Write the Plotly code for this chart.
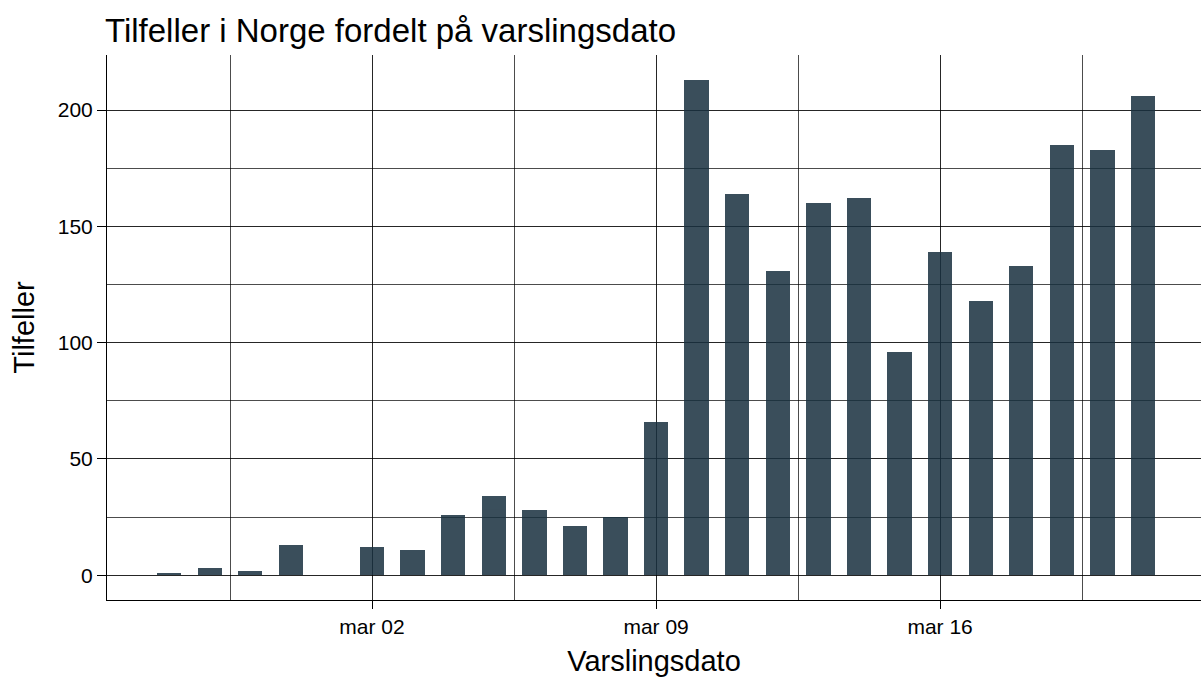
import plotly.graph_objects as go

dates = ["2020-02-26", "2020-02-27", "2020-02-28", "2020-02-29",
         "2020-03-02", "2020-03-03", "2020-03-04", "2020-03-05", "2020-03-06",
         "2020-03-07", "2020-03-08", "2020-03-09", "2020-03-10", "2020-03-11",
         "2020-03-12", "2020-03-13", "2020-03-14", "2020-03-15", "2020-03-16",
         "2020-03-17", "2020-03-18", "2020-03-19", "2020-03-20", "2020-03-21"]
cases = [1, 3, 2, 13, 12, 11, 26, 34, 28, 21, 25, 66, 213, 164, 131, 160, 162,
         96, 139, 118, 133, 185, 183, 206]

x_tickvals = ["2020-03-02", "2020-03-09", "2020-03-16"]
x_ticktext = ["mar 02", "mar 09", "mar 16"]
x_minorvals = ["2020-02-27 12:00", "2020-03-05 12:00", "2020-03-12 12:00", "2020-03-19 12:00"]
y_tickvals = [0, 50, 100, 150, 200]
y_minorvals = [25, 75, 125, 175]

DAY_MS = 86400000

fig = go.Figure()
fig.add_trace(go.Bar(
    x=dates, y=cases,
    width=[0.6 * DAY_MS] * len(dates),
    marker=dict(color="rgb(24,48,63)", line=dict(width=0)),
    opacity=0.85,
    hoverinfo="x+y",
))

W, H = 1203, 677
grid_col = "rgba(0,0,0,0.85)"
fig.update_layout(
    width=W, height=H,
    margin=dict(l=107, r=2, t=55, b=77, autoexpand=False),
    paper_bgcolor="white", plot_bgcolor="white",
    font=dict(family="Liberation Sans, Arial, sans-serif", color="black"),
    title=dict(text="Tilfeller i Norge fordelt på varslingsdato",
               x=105 / W, xanchor="left", xref="container",
               y=1 - 30 / H, yanchor="middle", yref="container",
               font=dict(size=33, color="black")),
    showlegend=False,
    bargap=0,
    xaxis=dict(
        type="date", automargin=False,
        range=["2020-02-24 11:14", "2020-03-22 10:19"],
        tickmode="array", tickvals=x_tickvals, ticktext=x_ticktext,
        ticks="outside", ticklen=8, tickcolor="black", tickwidth=1,
        tickfont=dict(size=21, color="black"),
        showgrid=True, gridcolor=grid_col, gridwidth=1,
        minor=dict(tickmode="array", tickvals=x_minorvals, showgrid=True,
                   gridcolor="rgba(0,0,0,0.7)", gridwidth=1, ticks=""),
        showline=True, linecolor="black", linewidth=1,
        zeroline=False,
        title=dict(text="Varslingsdato", font=dict(size=29, color="black"), standoff=14),
    ),
    yaxis=dict(
        automargin=False,
        range=[-10.65, 223.65],
        tickmode="array", tickvals=y_tickvals,
        ticks="outside", ticklen=9, tickcolor="black", tickwidth=1,
        tickfont=dict(size=21, color="black"),
        showgrid=True, gridcolor=grid_col, gridwidth=1,
        minor=dict(tickmode="array", tickvals=y_minorvals, showgrid=True,
                   gridcolor="rgba(0,0,0,0.7)", gridwidth=1, ticks=""),
        showline=True, linecolor="black", linewidth=1,
        zeroline=False,
        title=dict(text="Tilfeller", font=dict(size=29, color="black"), standoff=14),
    ),
)

# remove the browser's default 8px body margin so the figure fills the window
fig.write_html("out.html",
               config={"displayModeBar": False},
               post_script="document.body.style.margin='0';document.body.style.overflow='hidden';")
